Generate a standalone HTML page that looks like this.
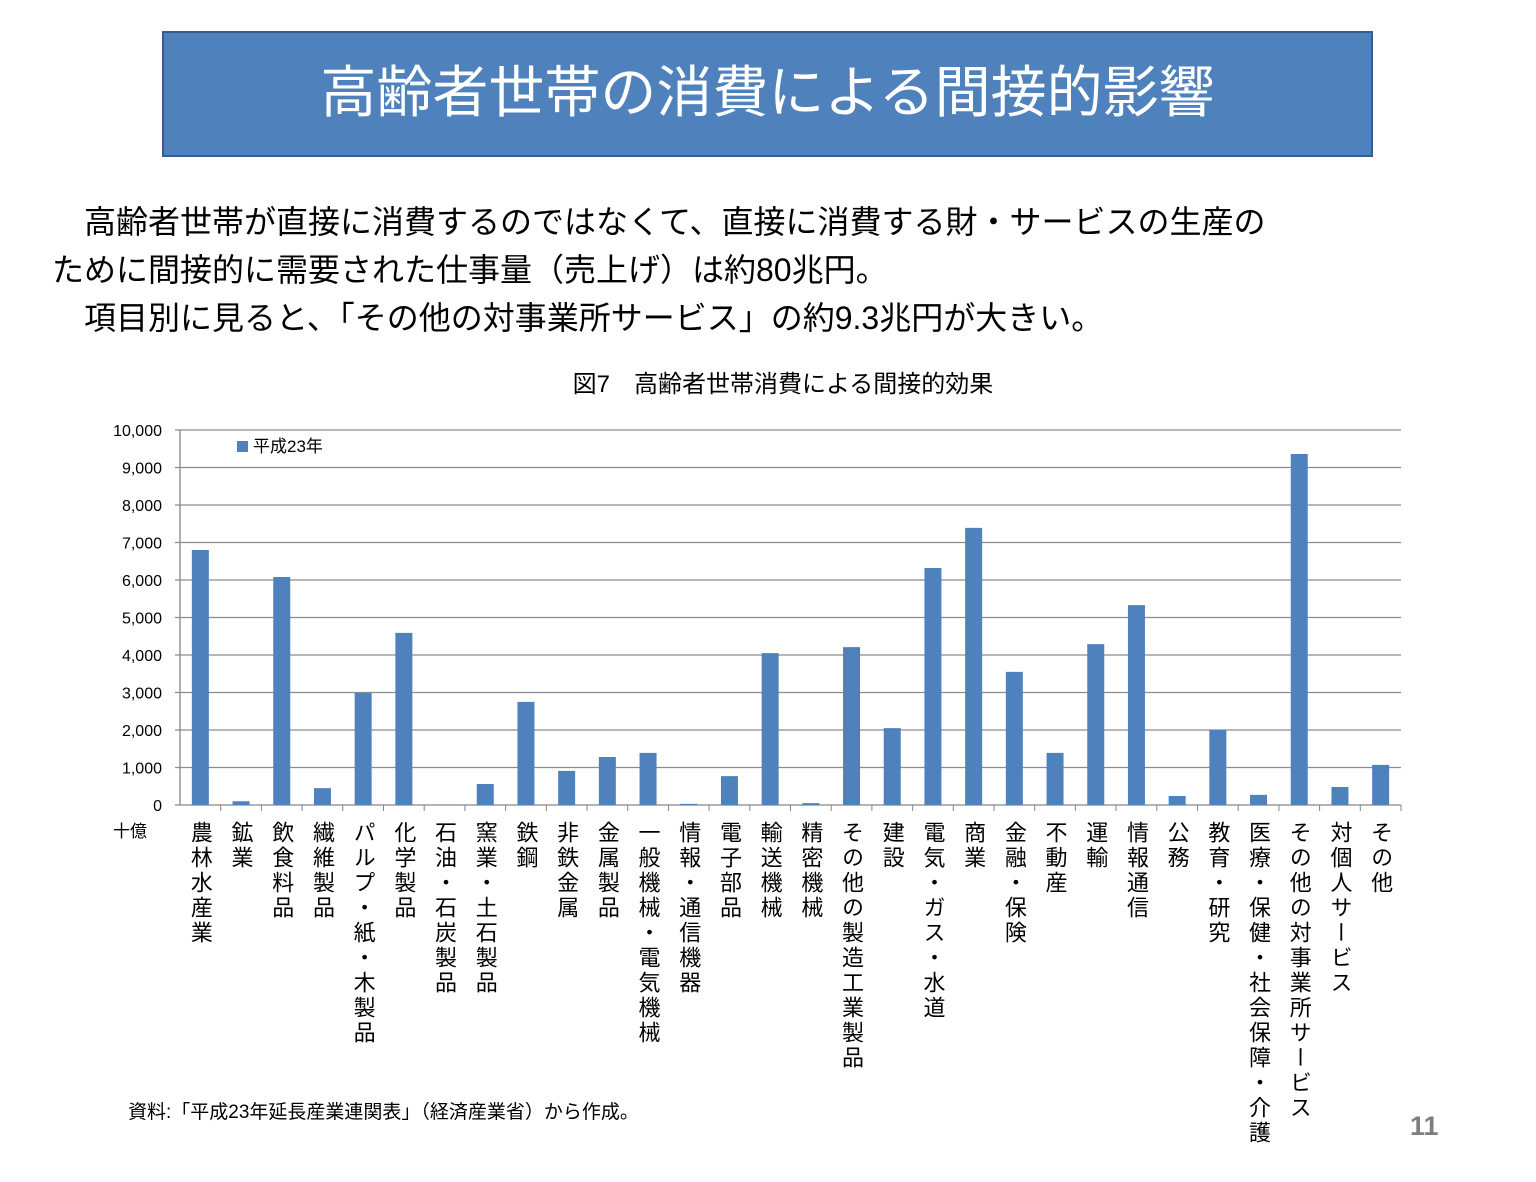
<!DOCTYPE html>
<html><head><meta charset="utf-8">
<style>
body{margin:0;background:#fff;}
#page{position:relative;width:1536px;height:1182px;overflow:hidden;background:#fff;font-family:"Liberation Sans","Noto Sans CJK JP",sans-serif;}
.abs{position:absolute;white-space:nowrap;}
</style></head><body>
<div id="page">
<div class="abs" style="left:162px;top:31px;width:1207px;height:122px;background:#4F81BD;border:2px solid #385D8A;"></div>
<div class="abs" style="left:162px;top:58px;width:1211px;text-align:center;color:#fff;font-size:56px;line-height:70px;">高齢者世帯の消費による間接的影響</div>
<div class="abs" style="left:52px;top:198px;font-size:32px;line-height:48px;color:#000;">
<div>　高齢者世帯が直接に消費するのではなくて、直接に消費する財・サービスの生産の</div>
<div>ために間接的に需要された仕事量（売上げ）は約80兆円。</div>
<div>　項目別に見ると、「その他の対事業所サービス」の約9.3兆円が大きい。</div>
</div>
<div class="abs" style="left:0;width:1566px;text-align:center;top:364px;font-size:24px;">図7　高齢者世帯消費による間接的効果</div>
<svg class="abs" style="left:0;top:0" width="1536" height="1182" id="chart"></svg>
<div class="abs" style="left:113px;top:817px;font-size:17px;">十億</div>
<div class="abs" style="left:128px;top:1097px;font-size:19px;">資料:「平成23年延長産業連関表」（経済産業省）から作成。</div>
<div class="abs" style="left:1410px;top:1111px;font-size:27px;font-weight:bold;color:#7f7f7f;">11</div>
</div>
<script>
const categories=["農林水産業","鉱業","飲食料品","繊維製品","パルプ・紙・木製品","化学製品","石油・石炭製品","窯業・土石製品","鉄鋼","非鉄金属","金属製品","一般機械・電気機械","情報・通信機器","電子部品","輸送機械","精密機械","その他の製造工業製品","建設","電気・ガス・水道","商業","金融・保険","不動産","運輸","情報通信","公務","教育・研究","医療・保健・社会保障・介護","その他の対事業所サービス","対個人サービス","その他"];
const values=[6800,100,6080,450,2990,4590,10,560,2750,910,1280,1390,30,770,4050,50,4210,2050,6320,7390,3550,1390,4290,5330,240,2000,270,9360,480,1070];
const yTicks=[0,1000,2000,3000,4000,5000,6000,7000,8000,9000,10000];
const tickLabels=["0","1,000","2,000","3,000","4,000","5,000","6,000","7,000","8,000","9,000","10,000"];
const svg=document.getElementById('chart');
const NS="http://www.w3.org/2000/svg";
const x0=180,x1=1401,y0=805,yTop=430,yMax=10000;
const y=v=>y0-(v/yMax)*(y0-yTop);
const step=(x1-x0)/categories.length;
const xc=i=>x0+step*(i+0.5);
function mk(t,a){const e=document.createElementNS(NS,t);for(const k in a)e.setAttribute(k,a[k]);svg.appendChild(e);return e;}
yTicks.forEach((v,i)=>{
 const g=mk('line',{x1:x0-5,x2:x1,y1:y(v),y2:y(v),stroke:v===0?'#868686':'#8c8c8c','stroke-width':1.3});
 
 
 const t=mk('text',{x:162,y:y(v)+6,'text-anchor':'end','font-size':16,fill:'#000'});
 t.textContent=tickLabels[i];
 
 
});
const ax=mk('line',{x1:x0,x2:x0,y1:yTop,y2:y0,stroke:'#868686','stroke-width':1.3});


categories.forEach((c,i)=>{
 const tk=mk('line',{x1:x0+step*(i+1),x2:x0+step*(i+1),y1:y0,y2:y0+6,stroke:'#868686'});
 
 
 const b=mk('rect',{x:xc(i)-8.5,width:17,y:y(values[i]),height:y0-y(values[i]),fill:'#4F81BD'});
 
 
 const t=mk('text',{x:xc(i),y:821,'font-size':22,fill:'#000','letter-spacing':3,style:'writing-mode:vertical-rl;'});
 t.textContent=c;
 
 
});
const lr=mk('rect',{x:237,y:441,width:11,height:11,fill:'#4F81BD'});


const lt=mk('text',{x:253,y:452,'font-size':17,fill:'#000'});
lt.textContent='平成23年';


</script>
</body></html>
